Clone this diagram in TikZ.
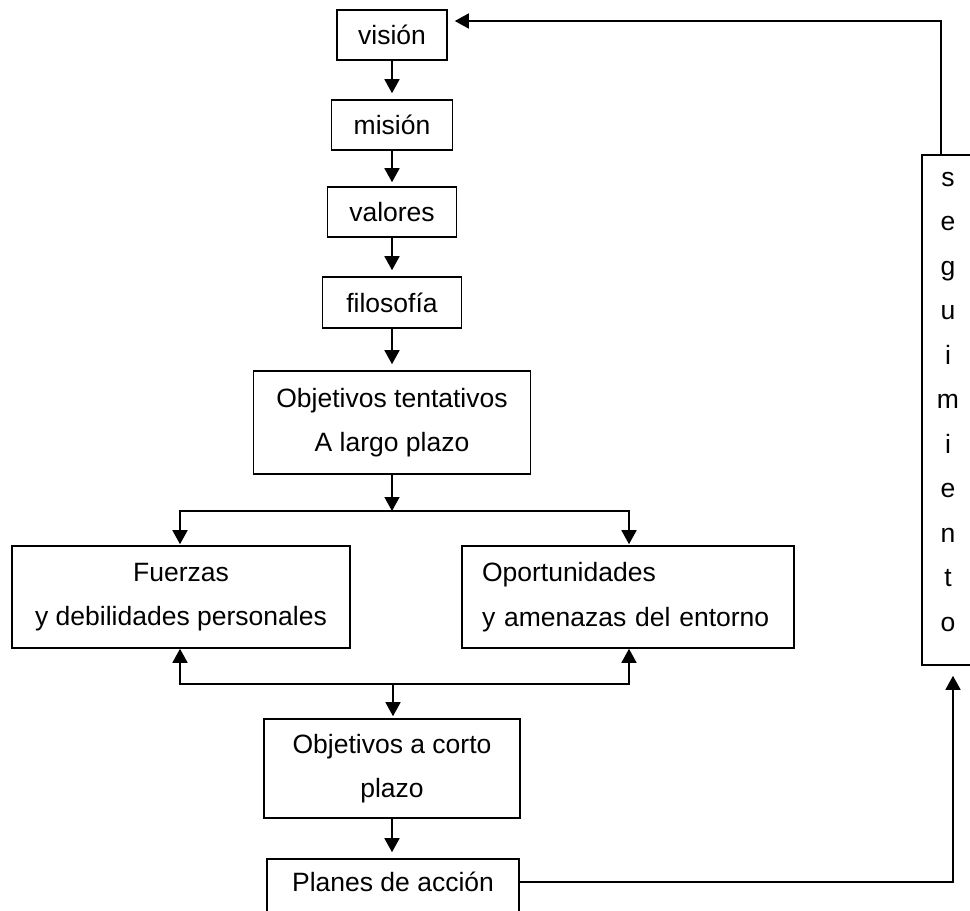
\documentclass[tikz,border=0pt]{standalone}
\usepackage{fontspec}
\setmainfont{Liberation Sans}
\usetikzlibrary{arrows.meta}
\begin{document}
\begin{tikzpicture}[x=1pt,y=-1pt,
  box/.style={draw, line width=1.6pt, inner sep=0pt, align=center, font=\fontsize{26.5}{44.5}\selectfont},
  txt/.style={inner sep=0pt, align=center, font=\fontsize{26.5}{44.5}\selectfont},
  ln/.style={line width=1.6pt},
  arr/.style={line width=1.6pt, -{Triangle[length=14pt,width=15pt]}}]
\useasboundingbox (0,0) rectangle (970,911);

% chain of boxes
\node[box, minimum width=110pt, minimum height=50pt] (vision) at (392,35) {visión};
\node[box, minimum width=121pt, minimum height=50pt] (mision) at (392,125) {misión};
\node[box, minimum width=129pt, minimum height=50pt] (valores) at (392,212) {valores};
\node[box, minimum width=139pt, minimum height=51pt] (filosofia) at (392,302.5) {filosofía};
\node[box, minimum width=277pt, minimum height=103pt] (objlargo) at (392,422.5) {Objetivos tentativos\\A largo plazo};
\node[box, minimum width=338pt, minimum height=102pt] (fuerzas) at (181,597) {Fuerzas\\y debilidades personales};
\node[box, align=left, text width=292pt, inner xsep=20pt, minimum height=102pt] (oport) at (628,597) {Oportunidades\\y amenazas del entorno};
\node[box, minimum width=256pt, minimum height=99pt] (objcorto) at (392,768.5) {Objetivos a corto\\plazo};
\node[box, minimum width=252pt, minimum height=100pt] (planes) at (393,909) {};
\node[txt] (planestext) at (393,882) {Planes de acción};
\node[box, minimum width=53pt, minimum height=510pt] (seg) at (948.5,410) {};
\node[txt] (segtext) at (948,402) {s\\e\\g\\u\\i\\m\\i\\e\\n\\t\\o};

% chain arrows
\draw[arr, shorten >=6pt] (vision.south) -- (mision.north);
\draw[arr, shorten >=4pt] (mision.south) -- (valores.north);
\draw[arr, shorten >=6pt] (valores.south) -- (filosofia.north);
\draw[arr, shorten >=6pt] (filosofia.south) -- (objlargo.north);

% fork
\coordinate (splitA) at (392,511);
\draw[arr] (objlargo.south) -- (splitA);
\draw[arr, shorten >=1pt] (splitA) -| ([xshift=-1pt]fuerzas.north);
\draw[arr, shorten >=1pt] (splitA) -| ([xshift=1pt]oport.north);

% join
\coordinate (joinA) at (393,684);
\draw[arr] (joinA) -| ([xshift=-1pt]fuerzas.south);
\draw[arr] (joinA) -| ([xshift=1pt]oport.south);
\draw[arr, shorten >=2pt] (joinA) -- (joinA |- objcorto.north);

% to planes
\draw[arr, shorten >=6pt] (objcorto.south) -- (objcorto.south |- planes.north);

% feedback loop
\draw[arr, shorten >=10pt] (planes.east |- planestext) -| ([xshift=4.5pt]seg.south);
\draw[arr, shorten >=7pt] ([xshift=-7.5pt]seg.north) |- ([yshift=14pt]vision.east);
\end{tikzpicture}
\end{document}
